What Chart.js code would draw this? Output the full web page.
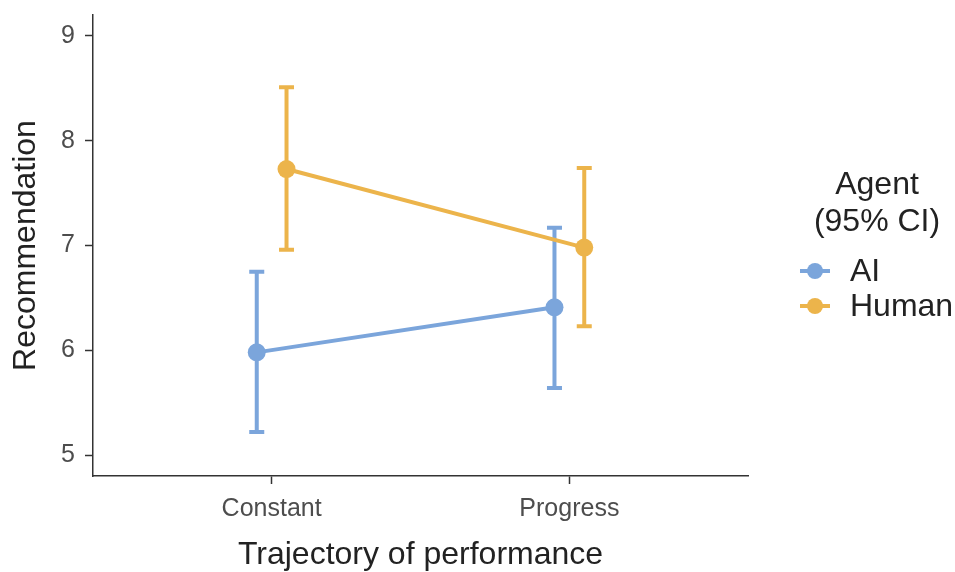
<!DOCTYPE html>
<html>
<head>
<meta charset="utf-8">
<script src="https://cdn.jsdelivr.net/npm/chart.js@4.4.1/dist/chart.umd.min.js"></script>
<style>
  body { margin: 0; background: #fff; }
  #wrap { width: 955px; height: 572px; position: relative; }
</style>
</head>
<body>
<div id="wrap"><canvas id="plot"></canvas></div>
<script>
const CATEGORIES = ["Constant", "Progress"];
const AGENTS = ["AI", "Human"];
const AI_MEAN = [5.98, 6.41];
const AI_LOW = [5.22, 5.64];
const AI_HIGH = [6.75, 7.17];
const HUMAN_MEAN = [7.73, 6.98];
const HUMAN_LOW = [6.96, 6.23];
const HUMAN_HIGH = [8.51, 7.74];
const Y_TICKS = [5, 6, 7, 8, 9];
const LEGEND_TITLE = ["Agent", "(95% CI)"];

const COLORS = ["#7BA5DB", "#ECB44B"];
const DODGE = 0.05;
const FONT = "'Liberation Sans', Arial, sans-serif";

function makePoints(means, shift) {
    return means.map(function (m, i) {
        return { x: i + 1 + shift, y: m };
    });
}

const SERIES = [
    { label: AGENTS[0], mean: AI_MEAN, low: AI_LOW, high: AI_HIGH, shift: -DODGE, color: COLORS[0], order: 1 },
    { label: AGENTS[1], mean: HUMAN_MEAN, low: HUMAN_LOW, high: HUMAN_HIGH, shift: DODGE, color: COLORS[1], order: 0 }
];

// error bars under the lines
const errorBars = {
    id: "errorBars",
    beforeDatasetsDraw(chart) {
        const ctx = chart.ctx;
        const xs = chart.scales.x, ys = chart.scales.y;
        ctx.save();
        ctx.lineWidth = 4;
        ctx.lineCap = "butt";
        SERIES.forEach(function (s) {
            ctx.strokeStyle = s.color;
            s.mean.forEach(function (m, i) {
                const px = xs.getPixelForValue(i + 1 + s.shift);
                const top = ys.getPixelForValue(s.high[i]);
                const bot = ys.getPixelForValue(s.low[i]);
                ctx.beginPath();
                ctx.moveTo(px, top);
                ctx.lineTo(px, bot);
                ctx.moveTo(px - 7.5, top);
                ctx.lineTo(px + 7.5, top);
                ctx.moveTo(px - 7.5, bot);
                ctx.lineTo(px + 7.5, bot);
                ctx.stroke();
            });
        });
        ctx.restore();
    }
};

// ggplot style legend on the right
const sideLegend = {
    id: "sideLegend",
    afterDraw(chart) {
        const ctx = chart.ctx;
        ctx.save();
        ctx.font = "32px " + FONT;
        ctx.fillStyle = "#222";
        ctx.textAlign = "center";
        ctx.textBaseline = "middle";
        LEGEND_TITLE.forEach(function (t, i) {
            ctx.fillText(t, 877, 185 + i * 37);
        });
        ctx.textAlign = "left";
        SERIES.forEach(function (s, i) {
            const y = 271 + i * 35;
            ctx.strokeStyle = s.color;
            ctx.lineWidth = 4;
            ctx.beginPath();
            ctx.moveTo(800, y);
            ctx.lineTo(830, y);
            ctx.stroke();
            ctx.fillStyle = s.color;
            ctx.beginPath();
            ctx.arc(815, y, 8, 0, Math.PI * 2);
            ctx.fill();
            ctx.fillStyle = "#222";
            ctx.fillText(s.label, 850, y + 1);
        });
        ctx.restore();
    }
};

window.onload = function () {
    const ctx = document.getElementById("plot").getContext("2d");
    new Chart(ctx, {
        type: "line",
        data: {
            datasets: SERIES.map(function (s) {
                return {
                    label: s.label,
                    data: makePoints(s.mean, s.shift),
                    borderColor: s.color,
                    backgroundColor: s.color,
                    borderWidth: 4,
                    pointRadius: 9,
                    pointBorderWidth: 0,
                    pointHoverRadius: 9,
                    fill: false,
                    tension: 0,
                    order: s.order
                };
            })
        },
        options: {
            responsive: true,
            maintainAspectRatio: false,
            animation: false,
            layout: { padding: { top: 15, right: 207, left: 0, bottom: 0 } },
            plugins: {
                legend: { display: false },
                tooltip: { enabled: false }
            },
            scales: {
                x: {
                    type: "linear",
                    min: 0.4,
                    max: 2.6,
                    afterBuildTicks: function (scale) {
                        scale.ticks = CATEGORIES.map(function (c, i) { return { value: i + 1 }; });
                    },
                    afterFit: function (scale) { scale.height = 96; },
                    ticks: {
                        callback: function (v) { return CATEGORIES[v - 1]; },
                        color: "#4D4D4D",
                        font: { family: FONT, size: 25 },
                        padding: 10,
                        maxRotation: 0
                    },
                    grid: {
                        drawOnChartArea: false,
                        drawTicks: true,
                        tickLength: 8,
                        tickColor: "#333",
                        tickWidth: 1.5
                    },
                    border: { color: "#333", width: 1.5 },
                    title: {
                        display: true,
                        text: "Trajectory of performance",
                        color: "#222",
                        font: { family: FONT, size: 32, lineHeight: 1 },
                        padding: { top: 0, bottom: 1 }
                    }
                },
                y: {
                    min: 4.8,
                    max: 9.2,
                    afterBuildTicks: function (scale) {
                        scale.ticks = Y_TICKS.map(function (v) { return { value: v }; });
                    },
                    afterFit: function (scale) {
                        scale.width = 93;
                        scale.paddingTop = 0;
                        scale.paddingBottom = 0;
                    },
                    ticks: {
                        color: "#4D4D4D",
                        font: { family: FONT, size: 25, lineHeight: 0.6 },
                        padding: 10
                    },
                    grid: {
                        drawOnChartArea: false,
                        drawTicks: true,
                        tickLength: 8,
                        tickColor: "#333",
                        tickWidth: 1.5
                    },
                    border: { color: "#333", width: 1.5 },
                    title: {
                        display: true,
                        text: "Recommendation",
                        color: "#222",
                        font: { family: FONT, size: 32 },
                        padding: { top: 7, bottom: 0 }
                    }
                }
            }
        },
        plugins: [errorBars, sideLegend]
    });
};
</script>
</body>
</html>
